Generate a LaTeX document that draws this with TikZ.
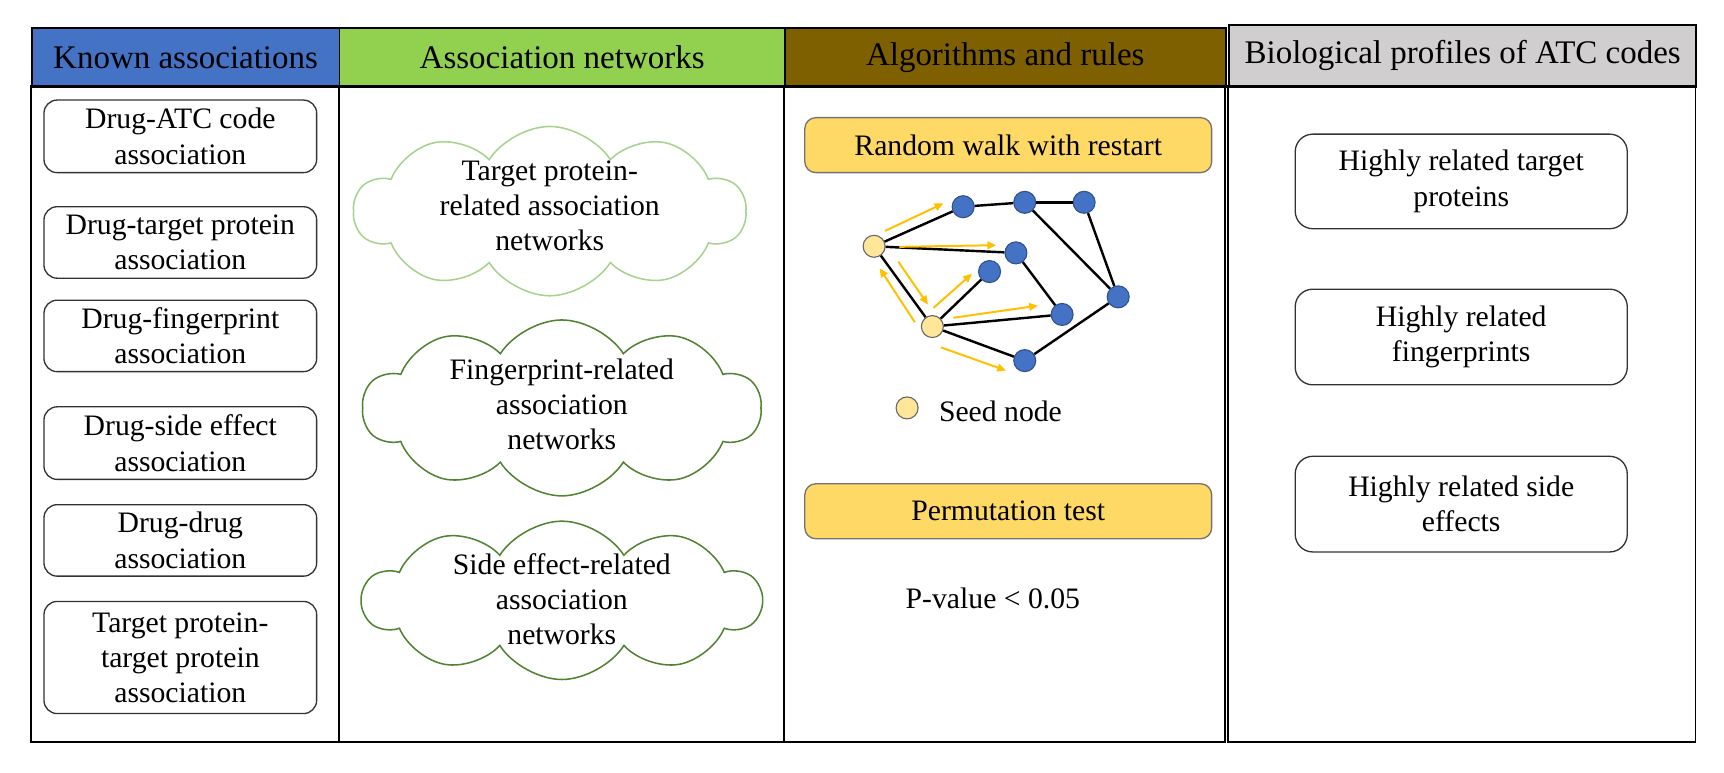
\documentclass[tikz,border=0pt]{standalone}
\usepackage{fontspec}
\setmainfont{Liberation Serif}
\newfontfamily\timesx{Liberation Serif}
\usetikzlibrary{shapes.symbols,arrows.meta}
\definecolor{hblue}{HTML}{4472C4}
\definecolor{hgreen}{HTML}{92D050}
\definecolor{hbrown}{HTML}{7F6000}
\definecolor{hgray}{HTML}{D0CECE}
\definecolor{ybox}{HTML}{FFD966}
\definecolor{seedc}{HTML}{FFE699}
\definecolor{arrc}{HTML}{FFC000}
\definecolor{cloudl}{HTML}{A9D18E}
\definecolor{cloudd}{HTML}{548235}
\definecolor{nodeb}{HTML}{2F528F}
\begin{document}
\begin{tikzpicture}[x=0.5pt,y=-0.5pt,
  hdr/.style={draw=black,line width=0.8pt,inner sep=0pt,anchor=north west,font=\timesx\fontsize{15}{17}\selectfont},
  body/.style={font=\timesx\fontsize{13.5}{16}\selectfont,align=center},
  lbox/.style={body,draw=black!80,line width=0.6pt,rounded corners=6pt,minimum width=124pt,inner sep=0pt},
  rbox/.style={body,draw=black!80,line width=0.6pt,rounded corners=8pt,minimum width=151pt,inner sep=0pt},
  ybx/.style={body,draw=black!55,line width=0.6pt,fill=ybox,rounded corners=5pt,minimum width=185pt,minimum height=25pt,inner sep=0pt},
  cld/.style={cloud,cloud puffs=10,cloud puff arc=115,line width=0.7pt,inner sep=0pt},
  seed/.style={circle,draw=black!60,fill=seedc,line width=0.5pt,minimum size=10pt,inner sep=0pt},
  bnode/.style={circle,draw=nodeb,fill=hblue,line width=0.5pt,minimum size=10pt,inner sep=0pt},
  edge/.style={draw=black,line width=1.1pt},
  yarr/.style={draw=arrc,line width=0.9pt,-{Triangle[length=4pt,width=3.5pt]}}
]
\useasboundingbox (0,0) rectangle (1568,703);
% headers
\node[hdr,fill=hblue,minimum width=140pt,minimum height=26.5pt] (h1) at (28,25) {Known associations};
\node[hdr,fill=hgreen,minimum width=202.5pt,minimum height=26.5pt] (h2) at (308,25) {Association networks};
\node[hdr,fill=hbrown,minimum width=200.5pt,minimum height=26.5pt] (h3) at (713,25) {Algorithms and rules};
\node[hdr,fill=hgray,minimum width=212.5pt,minimum height=28pt] (h4) at (1117,22) {Biological profiles of ATC codes};
% table body
\draw[line width=0.8pt] (28,78) rectangle (1114,675);
\draw[line width=0.8pt] (308,78) -- (308,675) (713,78) -- (713,675);
\draw[line width=0.8pt] (1117,78) rectangle (1542,675);
% column 1
\node[lbox,minimum height=33pt] (k1) at (164,124) {Drug-ATC code\\association};
\node[lbox,minimum height=32.5pt] (k2) at (164,220.5) {Drug-target protein\\association};
\node[lbox,minimum height=32.5pt] (k3) at (164,305.5) {Drug-fingerprint\\association};
\node[lbox,minimum height=33pt] (k4) at (164,403) {Drug-side effect\\association};
\node[lbox,minimum height=32.5pt] (k5) at (164,491.5) {Drug-drug\\association};
\node[lbox,minimum height=51pt] (k6) at (164,598) {Target protein-\\target protein\\association};
% column 2
\node[cld,draw=cloudl,minimum width=178pt,minimum height=77pt] (c1) at (500,192) {};
\node[body] (t1) at (500,187) {Target protein-\\related association\\networks};
\node[cld,draw=cloudd,minimum width=181pt,minimum height=80pt] (c2) at (511,371) {};
\node[body] (t2) at (511,368) {Fingerprint-related\\association\\networks};
\node[cld,draw=cloudd,minimum width=181pt,minimum height=72pt] (c3) at (511,546) {};
\node[body] (t3) at (511,545) {Side effect-related\\association\\networks};
% column 3
\node[ybx] (rw) at (917,132) {Random walk with restart};
\node[seed] (A) at (795,224) {};
\node[seed] (B) at (848,297) {};
\node[bnode] (n1) at (876,188) {};
\node[bnode] (n2) at (932,184) {};
\node[bnode] (n3) at (986,184) {};
\node[bnode] (n4) at (924,230) {};
\node[bnode] (n5) at (900,247) {};
\node[bnode] (n6) at (966,286) {};
\node[bnode] (n7) at (1017,270) {};
\node[bnode] (n8) at (932,328) {};
\draw[edge] (A) -- (n1);
\draw[edge] (A) -- (n4);
\draw[edge] (A) -- (B);
\draw[edge] (n1) -- (n2);
\draw[edge] (n2) -- (n3);
\draw[edge] (n2) -- (n7);
\draw[edge] (n3) -- (n7);
\draw[edge] (n4) -- (n6);
\draw[edge] (B) -- (n5);
\draw[edge] (B) -- (n6);
\draw[edge] (B) -- (n8);
\draw[edge] (n8) -- (n7);
\draw[yarr] (805,210) -- (858,185);
\draw[yarr] (818,224.5) -- (906,223);
\draw[yarr] (817,238) -- (844,277);
\draw[yarr] (832,293) -- (800,244);
\draw[yarr] (849,280) -- (884,249);
\draw[yarr] (867,289) -- (944,278);
\draw[yarr] (856,316) -- (915,337);
\node[seed] (leg) at (825,371) {};
\node[body,anchor=west] (legt) at (847,374) {Seed node};
\node[ybx] (pt) at (917,465) {Permutation test};
\node[body] (pv) at (903,544) {P-value < 0.05};
% column 4
\node[rbox,minimum height=43pt] (b1) at (1329,165) {Highly related target\\proteins};
\node[rbox,minimum height=43.5pt] (b2) at (1329,306.5) {Highly related\\fingerprints};
\node[rbox,minimum height=43.5pt] (b3) at (1329,458.5) {Highly related side\\effects};
\end{tikzpicture}
\end{document}
